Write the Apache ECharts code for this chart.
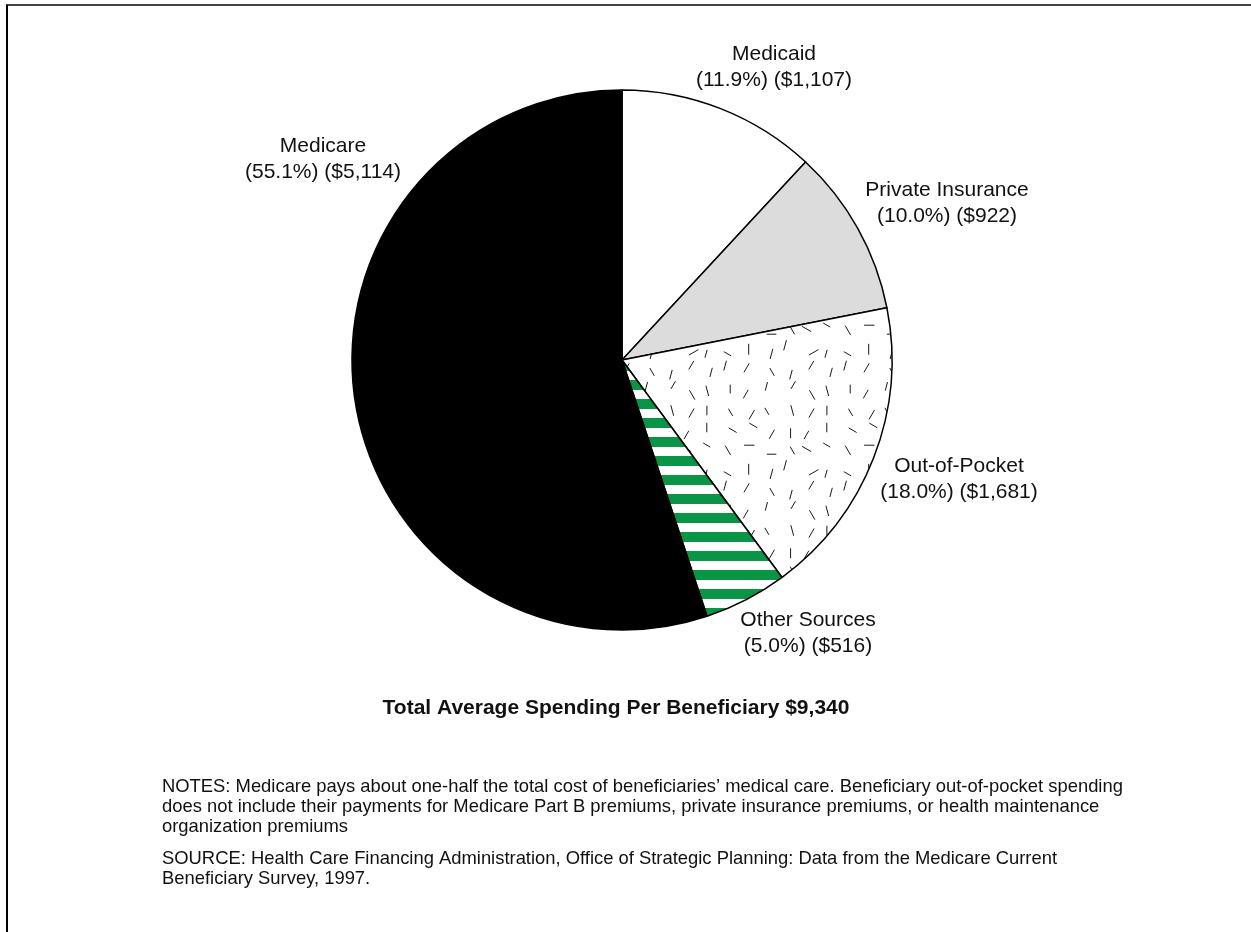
<!DOCTYPE html>
<html>
<head>
<meta charset="utf-8">
<script src="https://cdn.jsdelivr.net/npm/echarts@6/dist/echarts.min.js"></script>
<style>
  html, body { margin: 0; padding: 0; background: #fff; }
  #chart { width: 1251px; height: 932px; }
</style>
</head>
<body>
<div id="chart"></div>
<script>
// data
const sources = ['Medicaid', 'Private Insurance', 'Out-of-Pocket', 'Other Sources', 'Medicare'];
const percents = [11.9, 10.0, 18.0, 5.0, 55.1];
const dollars = [1107, 922, 1681, 516, 5114];
const totalText = 'Total Average Spending Per Beneficiary $9,340';
const notesText = 'NOTES: Medicare pays about one-half the total cost of beneficiaries\u2019 medical care. Beneficiary out-of-pocket spending\n' +
  'does not include their payments for Medicare Part B premiums, private insurance premiums, or health maintenance\n' +
  'organization premiums';
const sourceText = 'SOURCE: Health Care Financing Administration, Office of Strategic Planning: Data from the Medicare Current\n' +
  'Beneficiary Survey, 1997.';

// label centres, one per slice
const labelPos = [[774, 67], [947, 203], [959, 479], [808, 633], [323, 159]];

const FONT = '"Liberation Sans", Arial, Helvetica, sans-serif';

// fixed seed so the speckle texture is the same every time
function seeded(s) {
  return function() {
    s |= 0; s = s + 0x6D2B79F5 | 0;
    let t = Math.imul(s ^ s >>> 15, 1 | s);
    t = t + Math.imul(t ^ t >>> 7, 61 | t) ^ t;
    return ((t ^ t >>> 14) >>> 0) / 4294967296;
  };
}

function stripePattern() {
  const c = document.createElement('canvas');
  c.width = 8; c.height = 19;
  const ctx = c.getContext('2d');
  ctx.fillStyle = '#fff';
  ctx.fillRect(0, 0, 8, 19);
  ctx.fillStyle = '#0a9446';
  ctx.fillRect(0, 0, 8, 10);
  return c;
}

function dashPattern() {
  const size = 120, cell = 20;
  const c = document.createElement('canvas');
  c.width = size; c.height = size;
  const ctx = c.getContext('2d');
  ctx.fillStyle = '#fff';
  ctx.fillRect(0, 0, size, size);
  ctx.strokeStyle = '#000';
  ctx.lineWidth = 0.9;
  const rnd = seeded(7);
  const angles = [0, 30, 60, 90, 120, 150, 75, 105];
  for (let gx = 0; gx < size; gx += cell) {
    for (let gy = 0; gy < size; gy += cell) {
      const cx = gx + 5 + rnd() * 10;
      const cy = gy + 5 + rnd() * 10;
      const a = angles[Math.floor(rnd() * angles.length)] * Math.PI / 180;
      const len = 4 + rnd() * 1.5;
      ctx.beginPath();
      ctx.moveTo(cx - Math.cos(a) * len, cy - Math.sin(a) * len);
      ctx.lineTo(cx + Math.cos(a) * len, cy + Math.sin(a) * len);
      ctx.stroke();
    }
  }
  return c;
}

const fills = [
  '#ffffff',
  '#dcdcdc',
  { image: dashPattern(), repeat: 'repeat' },
  { image: stripePattern(), repeat: 'repeat' },
  '#000000'
];

const pieData = sources.map((name, i) => ({
  name: name,
  value: percents[i],
  itemStyle: { color: fills[i] }
}));

const chart = echarts.init(document.getElementById('chart'), null, { renderer: 'canvas' });

chart.setOption({
  backgroundColor: '#fff',
  animation: false,
  series: [
    {
      type: 'pie',
      center: [622, 360],
      radius: 270,
      startAngle: 90,
      clockwise: true,
      avoidLabelOverlap: false,
      emphasis: { disabled: true },
      itemStyle: { borderColor: '#000', borderWidth: 1.5 },
      label: {
        show: true,
        position: 'outside',
        color: '#111',
        fontFamily: FONT,
        fontSize: 21,
        lineHeight: 26,
        align: 'center',
        formatter: p => p.name + '\n(' + percents[p.dataIndex].toFixed(1) + '%) ($' +
          dollars[p.dataIndex].toLocaleString('en-US') + ')'
      },
      labelLine: { show: false },
      labelLayout: p => ({
        x: labelPos[p.dataIndex][0],
        y: labelPos[p.dataIndex][1],
        align: 'center',
        verticalAlign: 'middle'
      }),
      data: pieData
    }
  ],
  graphic: [
    { type: 'line', shape: { x1: 6, y1: 5, x2: 1251, y2: 5 }, style: { stroke: '#444', lineWidth: 2 } },
    { type: 'line', shape: { x1: 7, y1: 5, x2: 7, y2: 932 }, style: { stroke: '#000', lineWidth: 2 } },
    {
      type: 'text', x: 616, y: 708,
      style: { text: totalText, font: 'bold 21px ' + FONT, fill: '#111', align: 'center', verticalAlign: 'middle' }
    },
    {
      type: 'text', x: 162, y: 777,
      style: { text: notesText, font: '18.4px ' + FONT, lineHeight: 20, fill: '#111', align: 'left', verticalAlign: 'top' }
    },
    {
      type: 'text', x: 162, y: 849,
      style: { text: sourceText, font: '18.4px ' + FONT, lineHeight: 20, fill: '#111', align: 'left', verticalAlign: 'top' }
    }
  ]
});
</script>
</body>
</html>
